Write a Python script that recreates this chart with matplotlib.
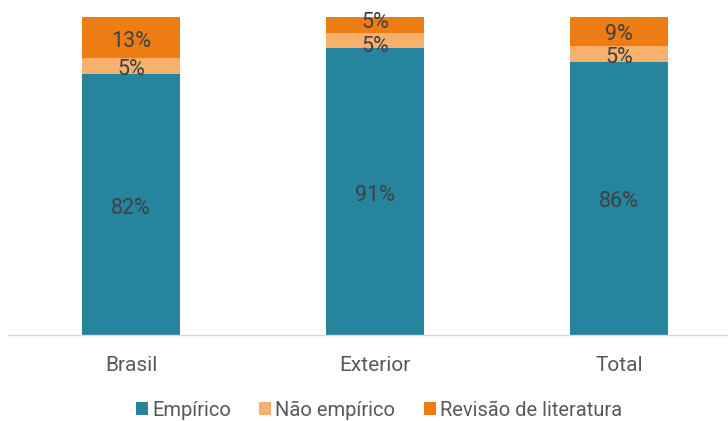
import matplotlib.pyplot as plt
import numpy as np

categorias = ["Brasil", "Exterior", "Total"]
series = ["Empírico", "Não empírico", "Revisão de literatura"]
empirico = [82, 91, 86]
nao_empirico = [5, 5, 5]
revisao = [13, 5, 9]

cores = ["#27849E", "#F7B16D", "#ED7D12"]

plt.rcParams['font.family'] = ['Roboto', 'DejaVu Sans']

valores = np.array([empirico, nao_empirico, revisao], dtype=float)
# 100% stacked: each bar is scaled to its own total
partes = valores / valores.sum(axis=0)

fig = plt.figure(figsize=(7.28, 4.21), dpi=100)
ax = fig.add_axes([8 / 728, 1 - 335 / 421, 1 - 8 / 728, (335 - 17) / 421])

x = np.arange(len(categorias))
base = np.zeros(len(categorias))
for i, nome in enumerate(series):
    ax.bar(x, partes[i], 0.4, bottom=base, color=cores[i], label=nome)
    for j in range(len(categorias)):
        y = base[j] + partes[i][j] / 2 - 0.011
        # push apart labels of two thin neighbouring segments
        if i == 2 and partes[i][j] < 0.06:
            y += 0.02
        if i == 1 and partes[2][j] < 0.06:
            y -= 0.006
        ax.text(x[j], y, f"{int(valores[i][j])}%",
                ha="center", va="center", fontsize=15.5, color="#404040")
    base += partes[i]

ax.set_xlim(-0.504, 2.447)
ax.set_ylim(0, 1)
ax.set_xticks(x)
ax.set_xticklabels(categorias, fontsize=15, color="#595959")
ax.tick_params(axis="x", length=0, pad=15)
ax.set_yticks([])
for lado in ["top", "right", "left"]:
    ax.spines[lado].set_visible(False)
ax.spines["bottom"].set_color("#D9D9D9")
ax.spines["bottom"].set_linewidth(1)

fig.legend(loc="center", bbox_to_anchor=(379 / 728, 1 - 410 / 421), ncol=3,
           frameon=False, fontsize=14.5, handlelength=0.6, handleheight=0.6,
           handletextpad=0.2, columnspacing=1.4, labelcolor="#595959")

fig.savefig("out.png", dpi=100)
